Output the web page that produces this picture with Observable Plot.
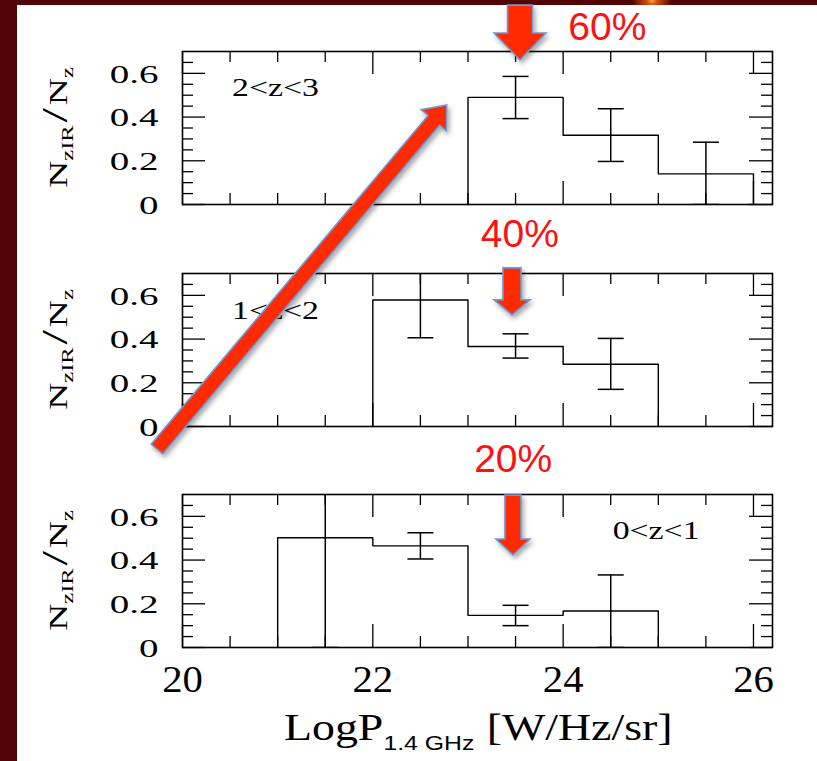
<!DOCTYPE html>
<html><head><meta charset="utf-8">
<script src="https://cdn.jsdelivr.net/npm/d3@7"></script>
<script src="https://cdn.jsdelivr.net/npm/@observablehq/plot@0.6"></script>
<style>
html,body{margin:0;padding:0;background:#520303;}
#page{position:relative;width:817px;height:761px;overflow:hidden;
 background: radial-gradient(circle at 652px 0px, #ffb040 0px, #d05010 5px, rgba(120,10,0,0) 20px), #520303;}
#sheet{position:absolute;left:17px;top:5px;width:800px;height:756px;background:#fff;}
.panel{position:absolute;left:0;width:817px;}
.panel svg{background:transparent !important;}
#overlay{position:absolute;left:0;top:0;pointer-events:none;}
</style></head><body><div id="page"><div id="sheet"></div></div>
<script>
// ---------------- data ----------------
const panelLabels = ["2<z<3", "1<z<2", "0<z<1"];
const binWidth = 1;
// 2<z<3
const binStart_z23 = [23, 24, 25];
const frac_z23     = [0.490, 0.317, 0.140];
const errLo_z23    = [0.393, 0.197, 0.000];
const errHi_z23    = [0.586, 0.438, 0.285];
// 1<z<2
const binStart_z12 = [22, 23, 24];
const frac_z12     = [0.579, 0.366, 0.285];
const errLo_z12    = [0.406, 0.313, 0.170];
const errHi_z12    = [0.760, 0.424, 0.403];
// 0<z<1
const binStart_z01 = [21, 22, 23, 24];
const frac_z01     = [0.502, 0.465, 0.147, 0.167];
const errLo_z01    = [0.000, 0.405, 0.100, 0.000];
const errHi_z01    = [0.800, 0.525, 0.193, 0.332];
// label positions (data units)
const labelX = [20.52, 20.52, 24.52];
const labelY = [0.535, 0.530, 0.535];
// ticks
const xTickMajor = [20, 22, 24, 26];
const xTickMinor = [20.5, 21, 21.5, 22.5, 23, 23.5, 24.5, 25, 25.5];
const yTickMajor = [0, 0.2, 0.4, 0.6];
const yTickMinor = [0.05, 0.1, 0.15, 0.25, 0.3, 0.35, 0.45, 0.5, 0.55, 0.65];
const xDomain = [20, 26.2];
const yDomain = [0, 0.7];
// annotations (panel index, data coords)
const percentText  = ["60%", "40%", "20%"];
const percentPanel = [0, 1, 2];
const percentX     = [24.47, 23.55, 23.48];
const percentY     = [0.750, 0.818, 0.802];
const arrowFromPanel = [0, 1, 2, 1];
const arrowFromX     = [23.552, 23.468, 23.478, 19.737];
const arrowFromY     = [0.910, 0.721, 0.695, -0.108];
const arrowToPanel   = [0, 1, 2, 0];
const arrowToX       = [23.552, 23.468, 23.478, 22.782];
const arrowToY       = [0.659, 0.506, 0.421, 0.453];
const arrowShaft     = [25, 18, 16, 15];
const arrowHead      = [52, 36, 34, 33];
const arrowHeadLen   = [27, 15, 16, 20];

// ---------------- layout / style ----------------
const SERIF = "'Liberation Serif', 'Times New Roman', serif";
const SANS = "'Liberation Sans', Arial, sans-serif";
const FRAME_TOPS = [51, 272.5, 494];
const FRAME_H = 153;
const ML = 182, MR = 45, W = 817;
const FRAME_W = W - ML - MR;
const MT = 12;
const page = document.getElementById("page");

const panels = [
  {start: binStart_z23, frac: frac_z23, lo: errLo_z23, hi: errHi_z23},
  {start: binStart_z12, frac: frac_z12, lo: errLo_z12, hi: errHi_z12},
  {start: binStart_z01, frac: frac_z01, lo: errLo_z01, hi: errHi_z01}
];

const capSymbol = {draw(ctx) { ctx.moveTo(-13, 0); ctx.lineTo(13, 0); }};

const isNum = v => v != null && v !== "" && isFinite(+v);
function stretchTexts(nodeList, s) {
  nodeList.forEach(el => {
    let t = el.getAttribute("transform") || "";
    const x = el.getAttribute("x"), y = el.getAttribute("y");
    let tx = 0, ty = 0;
    if (isNum(x)) { tx = +x; el.removeAttribute("x"); }
    if (isNum(y)) { ty = +y; el.removeAttribute("y"); }
    el.setAttribute("transform", `${t} translate(${tx},${ty}) scale(${s},1)`);
  });
}

const plots = [];
panels.forEach((p, i) => {
  const isBottom = i === 2;
  const MB = isBottom ? 60 : 12;
  const steps = [{x: p.start[0], y: 0}];
  p.start.forEach((s, k) => steps.push({x: s, y: p.frac[k]}));
  steps.push({x: p.start[p.start.length - 1] + binWidth, y: 0});
  const errs = p.start.map((s, k) => ({x: s + binWidth / 2, lo: p.lo[k], hi: p.hi[k]}));
  const lab = [{label: panelLabels[i], x: labelX[i], y: labelY[i]}];
  const tk = {stroke: "#000", strokeWidth: 1.3};
  const marks = [
    Plot.tickX(xTickMinor, {x: d => d, insetTop: FRAME_H - 11, ...tk}),
    Plot.tickX(xTickMinor, {x: d => d, insetBottom: FRAME_H - 11, ...tk}),
    Plot.tickX(xTickMajor, {x: d => d, insetTop: FRAME_H - 23, ...tk}),
    Plot.tickX(xTickMajor, {x: d => d, insetBottom: FRAME_H - 23, ...tk}),
    Plot.tickY(yTickMinor, {y: d => d, insetRight: FRAME_W - 11, ...tk}),
    Plot.tickY(yTickMinor, {y: d => d, insetLeft: FRAME_W - 11, ...tk}),
    Plot.tickY(yTickMajor, {y: d => d, insetRight: FRAME_W - 23, ...tk}),
    Plot.tickY(yTickMajor, {y: d => d, insetLeft: FRAME_W - 23, ...tk}),
    Plot.line(steps, {x: "x", y: "y", curve: "step-after", stroke: "#000", strokeWidth: 1.4}),
    Plot.ruleX(errs, {x: "x", y1: "lo", y2: "hi", stroke: "#000", strokeWidth: 1.5, clip: true}),
    Plot.dot(errs, {x: "x", y: "lo", symbol: capSymbol, r: 5, fill: "none", stroke: "#000", strokeWidth: 1.5, clip: true}),
    Plot.dot(errs, {x: "x", y: "hi", symbol: capSymbol, r: 5, fill: "none", stroke: "#000", strokeWidth: 1.5, clip: true}),
    Plot.frame({stroke: "#000", strokeWidth: 1.6}),
    Plot.text(yTickMajor, {x: () => xDomain[0], y: d => d, text: d => d === 0 ? "0" : d.toFixed(1), dx: -24, dy: 1, textAnchor: "end", fontSize: 26, fontFamily: SERIF, fill: "#000"}),
    Plot.text(lab, {x: "x", y: "y", text: "label", textAnchor: "start", fontSize: 26, fontFamily: SERIF, fill: "#000"})
  ];
  if (isBottom) {
    marks.push(Plot.text(xTickMajor, {x: d => d, y: () => yDomain[0], text: d => String(d), dy: 33, fontSize: 37, fontFamily: SERIF, fill: "#000"}));
  }
  const plot = Plot.plot({
    width: W, height: MT + FRAME_H + MB,
    marginTop: MT, marginBottom: MB, marginLeft: ML, marginRight: MR,
    x: {domain: xDomain, axis: null},
    y: {domain: yDomain, axis: null},
    style: {background: "transparent", overflow: "visible"},
    marks
  });
  const div = document.createElement("div");
  div.className = "panel";
  div.style.top = (FRAME_TOPS[i] - MT) + "px";
  div.appendChild(plot);
  page.appendChild(div);
  plots.push(plot);

  const textGroups = plot.querySelectorAll('g[aria-label="text"]');
  stretchTexts(textGroups[0].querySelectorAll("text"), 1.5);
  stretchTexts(textGroups[1].querySelectorAll("text"), 1.3);
  if (isBottom) stretchTexts(textGroups[2].querySelectorAll("text"), 1.1);

  // y-axis title
  const sy = plot.scale("y");
  const fy = d3.scaleLinear(sy.domain, sy.range);
  const cy = fy(0.35);
  const g = d3.select(plot).append("g").attr("transform", `translate(67,${cy}) rotate(-90)`);
  const t = g.append("text").attr("text-anchor", "middle").attr("font-family", SERIF).attr("font-size", 26).attr("fill", "#000");
  t.append("tspan").text("N");
  t.append("tspan").attr("font-size", 17).attr("dy", 6).text("zIR");
  t.append("tspan").attr("font-size", 36).attr("dy", -6).attr("dx", 2).text("/");
  t.append("tspan").attr("dx", 2).text("N");
  t.append("tspan").attr("font-size", 17).attr("dy", 6).text("z");
  const len = t.node().getComputedTextLength();
  g.attr("transform", `translate(67,${cy}) rotate(-90) scale(${115 / len},1)`);
});

// ---------------- overlay: arrows, percentages, x title ----------------
function toPage(panel, x, y) {
  const pl = plots[panel];
  const sx = pl.scale("x"), sy = pl.scale("y");
  const fx = d3.scaleLinear(sx.domain, sx.range);
  const fy = d3.scaleLinear(sy.domain, sy.range);
  return [fx(x), fy(y) + FRAME_TOPS[panel] - MT];
}
const overlay = d3.create("svg").attr("id", "overlay").attr("width", W).attr("height", 761);
const defs = overlay.append("defs");
const filt = defs.append("filter").attr("id", "sh").attr("x", "-50%").attr("y", "-50%").attr("width", "200%").attr("height", "200%");
filt.append("feDropShadow").attr("dx", 2).attr("dy", 3).attr("stdDeviation", 2.5).attr("flood-color", "#000").attr("flood-opacity", 0.35);

arrowFromX.forEach((_, i) => {
  const [tx, ty] = toPage(arrowFromPanel[i], arrowFromX[i], arrowFromY[i]);
  const [px, py] = toPage(arrowToPanel[i], arrowToX[i], arrowToY[i]);
  const L = Math.hypot(px - tx, py - ty);
  const ux = (px - tx) / L, uy = (py - ty) / L;
  const nx = -uy, ny = ux;
  const bx = px - ux * arrowHeadLen[i], by = py - uy * arrowHeadLen[i];
  const sw = arrowShaft[i] / 2, hw = arrowHead[i] / 2;
  const pts = [
    [tx + nx * sw, ty + ny * sw], [bx + nx * sw, by + ny * sw], [bx + nx * hw, by + ny * hw],
    [px, py],
    [bx - nx * hw, by - ny * hw], [bx - nx * sw, by - ny * sw], [tx - nx * sw, ty - ny * sw]
  ];
  overlay.append("polygon").attr("points", pts.map(p => p.join(",")).join(" "))
    .attr("fill", "#ff2a00").attr("stroke", "#6b9bd6").attr("stroke-width", 1.6)
    .attr("stroke-linejoin", "miter").attr("filter", "url(#sh)");
});

percentText.forEach((s, i) => {
  const [x, y] = toPage(percentPanel[i], percentX[i], percentY[i]);
  overlay.append("text").attr("x", x).attr("y", y).attr("text-anchor", "middle")
    .attr("font-family", SANS).attr("font-size", 39).attr("fill", "#ff1010").text(s);
});

const xt = overlay.append("g").attr("transform", "translate(284,740) scale(1.24,1)")
  .append("text").attr("font-family", SERIF).attr("font-size", 37).attr("fill", "#000");
xt.append("tspan").text("LogP");
xt.append("tspan").attr("font-family", "'Liberation Sans Narrow', 'Liberation Sans', sans-serif").attr("font-size", 20).attr("dy", 10).text("1.4 GHz");
xt.append("tspan").attr("dy", -10).attr("dx", 10).text("[W/Hz/sr]");

page.appendChild(overlay.node());
</script></body></html>
